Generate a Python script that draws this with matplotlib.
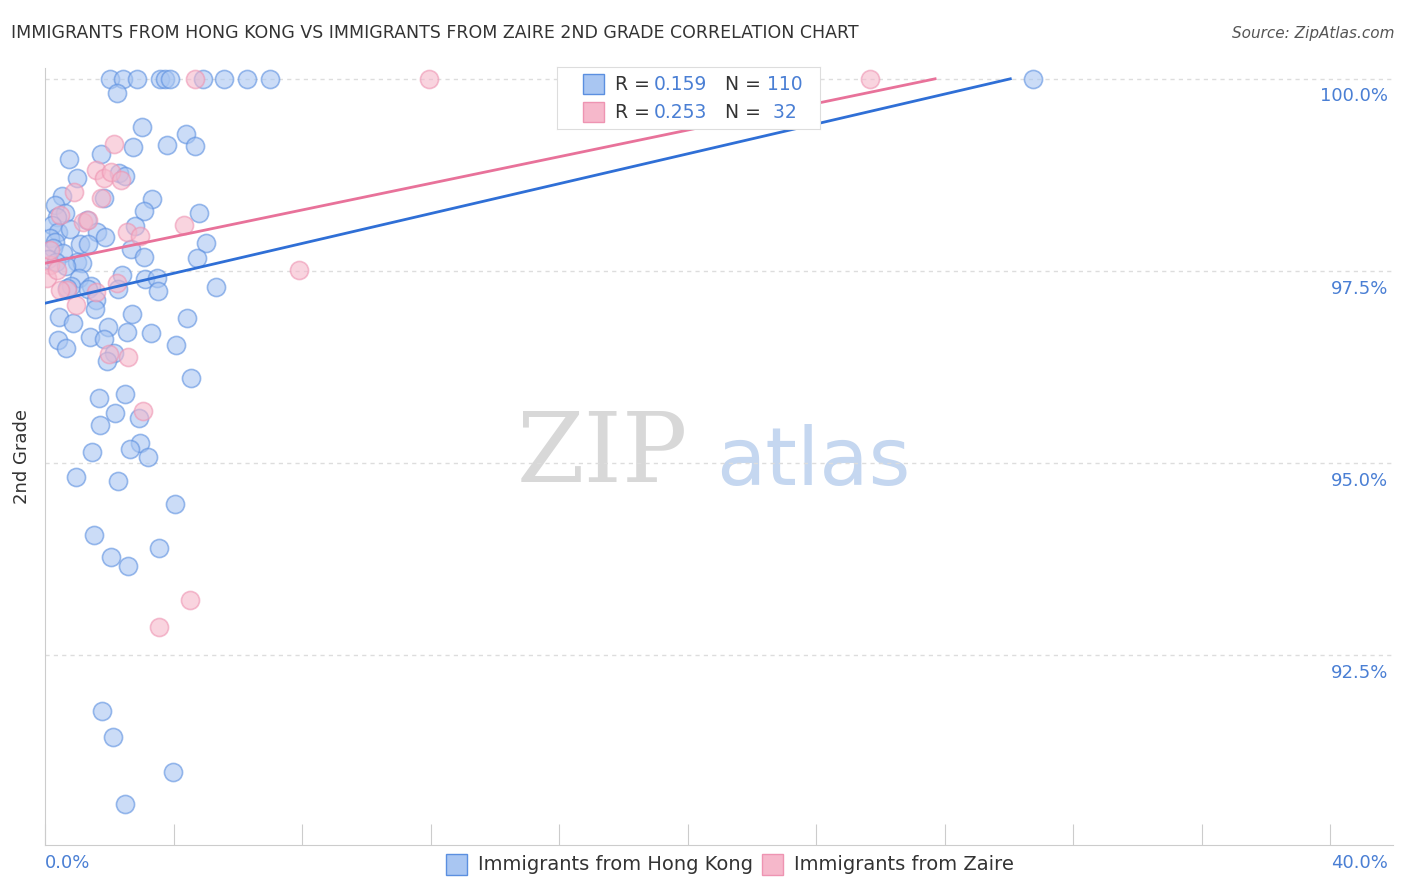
import matplotlib.pyplot as plt
import numpy as np

# pixel-read points converted to data units
hk_px = [(110,79),(123,79),(137,79),(160,79),(165,79),(170,79),(203,79),(224,79),(247,79),(270,79),(1033,79),
         (117,93),(142,127),(186,134),(69,159),(133,147),(167,145),(195,146),(101,154),(77,178),(119,173),(125,176),
         (62,196),(55,205),(104,198),(152,199),(144,211),(199,213),(65,213),(57,217),(87,220),(52,225),(135,226),
         (58,232),(70,229),(97,232),(105,237),(206,243),(50,238),(55,242),(80,244),(88,244),(53,248),(131,249),
         (63,253),(144,257),(197,258),(48,259),(56,262),(77,262),(82,263),(66,266),(122,275),(145,279),(157,278),
         (79,278),(71,286),(91,286),(67,288),(88,289),(118,289),(158,291),(216,287),(96,300),(95,309),(59,317),
         (73,323),(132,314),(187,318),(108,327),(127,332),(151,333),(90,337),(104,339),(58,340),(66,348),(176,345),
         (114,353),(107,361),(191,378),(125,394),(99,398),(115,413),(139,418),(100,425),(140,443),(130,449),
         (148,457),(92,452),(76,477),(118,481),(175,504),(94,535),(159,548),(111,557),(128,566),(102,711),
         (113,737),(173,772),(125,804)]
zaire_px = [(50,265),(47,278),(57,270),(74,192),(83,222),(88,220),(60,215),(67,290),(76,305),(96,292),(96,170),
            (104,178),(111,172),(114,144),(121,180),(101,198),(127,232),(140,236),(184,225),(117,283),(109,354),
            (128,357),(143,411),(195,79),(429,79),(870,79),(299,270),(190,600),(159,627),(60,290),(50,250)]

def to_data(pts):
    x = np.array([(p[0] - 45) / 32.125 for p in pts])
    y = np.array([100 - (p[1] - 79) / 76.8 for p in pts])
    return x, y

hk_x, hk_y = to_data(hk_px)
za_x, za_y = to_data(zaire_px)

blue_fill, blue_line = '#a9c6f2', '#2f6fd6'
pink_fill, pink_line = '#f6b8cb', '#e8729a'
tick_blue = '#4a7fd4'

fig = plt.figure(figsize=(14.06, 8.92), dpi=100)
ax = fig.add_axes([0.032, 0.0527, 0.959, 0.871])
ax.set_xlim(0, 41.96)
ax.set_ylim(90.03, 100.14)

ax.scatter(hk_x, hk_y, s=170, facecolor=blue_fill, edgecolor='#5b8fe0', alpha=0.6, linewidth=1.2, zorder=3)
ax.scatter(za_x, za_y, s=170, facecolor=pink_fill, edgecolor='#ee94b2', alpha=0.6, linewidth=1.2, zorder=3)

ax.plot([0, 30.04], [97.08, 100.0], color=blue_line, lw=2, zorder=4)
ax.plot([0, 27.7], [97.6, 100.0], color=pink_line, lw=2, zorder=4)

for yv in [100, 97.5, 95, 92.5]:
    ax.axhline(yv, color='#dddddd', ls=(0, (3, 3)), lw=1, zorder=1)
    ax.text(41.8, yv - 0.23, f'{yv:.1f}%', color=tick_blue, fontsize=13, ha='right', va='center')

for s in ['top', 'right']:
    ax.spines[s].set_visible(False)
ax.spines['left'].set_color('#cccccc')
ax.spines['bottom'].set_color('#cccccc')
ax.set_xticks(np.arange(0, 41, 4))
ax.set_xticklabels([])
ax.set_yticks([])
ax.tick_params(axis='x', direction='in', length=15, color='#cccccc')
ax.text(0, 89.8, '0.0%', color=tick_blue, fontsize=13, ha='left', va='center')
ax.text(41.8, 89.8, '40.0%', color=tick_blue, fontsize=13, ha='right', va='center')
ax.set_ylabel('2nd Grade', fontsize=13, color='#333333', labelpad=10)

ax.text(20, 95.1, 'ZIP', fontsize=70, color='#d8d8d8', family='DejaVu Serif', ha='right', va='center', zorder=0)
ax.text(20.9, 95.0, 'atlas', fontsize=58, color='#c5d7f0', ha='left', va='center', zorder=0)

fig.text(0.008, 0.963, 'IMMIGRANTS FROM HONG KONG VS IMMIGRANTS FROM ZAIRE 2ND GRADE CORRELATION CHART',
         fontsize=12.5, color='#333333', va='center')
fig.text(0.992, 0.963, 'Source: ZipAtlas.com', fontsize=11, color='#555555', ha='right', va='center', style='italic')

# top legend box
lg = fig.add_axes([0.396, 0.855, 0.187, 0.07])
lg.set_xlim(0, 1); lg.set_ylim(0, 1)
lg.set_xticks([]); lg.set_yticks([])
for s in lg.spines.values():
    s.set_color('#dddddd')
rows = [(0.72, blue_fill, '#5b8fe0', '0.159', '110'), (0.27, pink_fill, '#ee94b2', '0.253', ' 32')]
for yy, fc, ec, r, n in rows:
    lg.add_patch(plt.Rectangle((0.1, yy - 0.16), 0.08, 0.32, facecolor=fc, edgecolor=ec))
    lg.text(0.22, yy, 'R =', fontsize=13.5, color='#333333', va='center')
    lg.text(0.37, yy, r, fontsize=13.5, color=tick_blue, va='center')
    lg.text(0.64, yy, 'N =', fontsize=13.5, color='#333333', va='center')
    lg.text(0.80, yy, n, fontsize=13.5, color=tick_blue, va='center')

# bottom legend
for x0, fc, ec, lab in [(0.317, blue_fill, '#5b8fe0', 'Immigrants from Hong Kong'),
                        (0.542, pink_fill, '#ee94b2', 'Immigrants from Zaire')]:
    fig.patches.append(plt.Rectangle((x0, 0.019), 0.015, 0.024, transform=fig.transFigure,
                                     facecolor=fc, edgecolor=ec))
    fig.text(x0 + 0.023, 0.031, lab, fontsize=14, color='#333333', va='center')

fig.savefig('out.png', dpi=100)
